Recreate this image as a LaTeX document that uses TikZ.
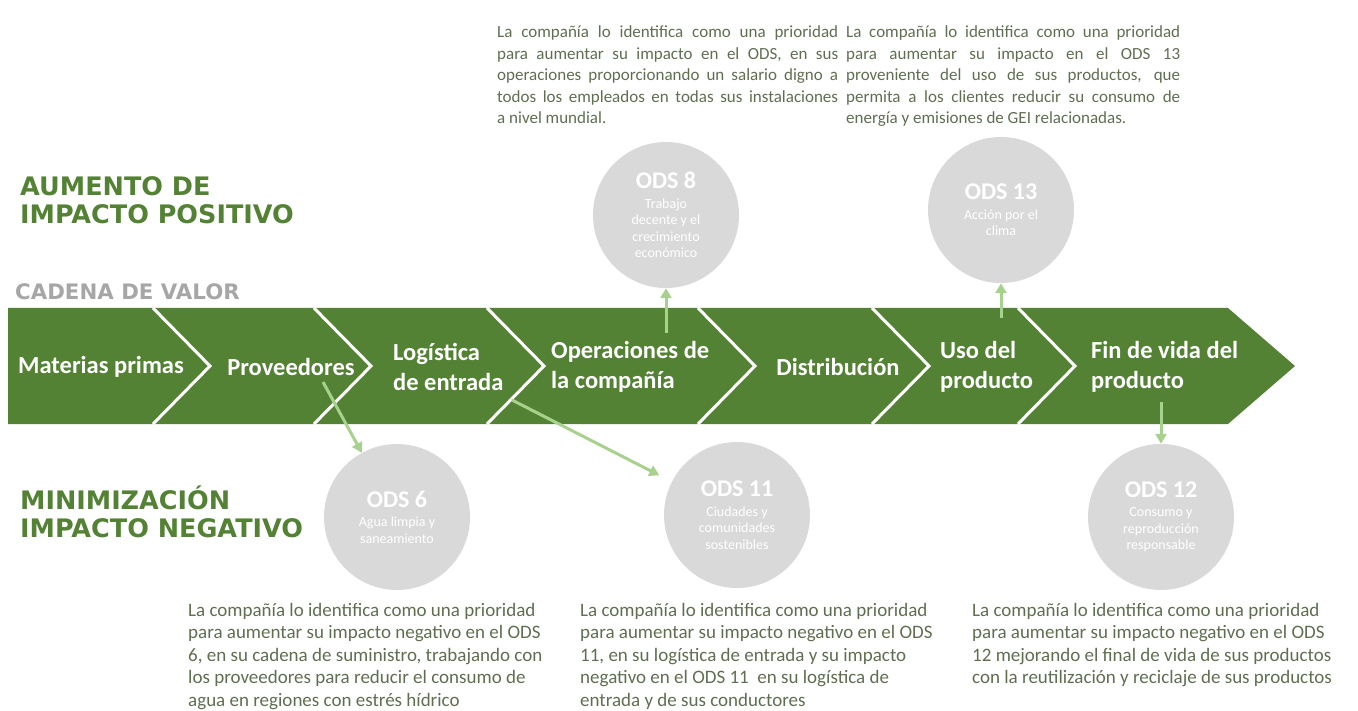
\documentclass[tikz,border=0pt]{standalone}
\usepackage{fontspec}
\setmainfont{Carlito}
\newfontfamily\headfont{DejaVu Sans}
\usetikzlibrary{arrows.meta}
\definecolor{bandgreen}{RGB}{84,130,53}
\definecolor{linkgreen}{RGB}{169,209,142}
\definecolor{odsgray}{RGB}{217,217,217}
\definecolor{notetext}{RGB}{95,110,80}
\definecolor{valuegray}{RGB}{166,166,166}
\begin{document}
\begin{tikzpicture}[x=1pt,y=-1pt,
    stage/.style={text=white,inner sep=0pt,align=left,font=\bfseries\fontsize{24.5}{30}\selectfont},
    ods/.style={circle,fill=odsgray,minimum size=146pt,inner sep=0pt,text=white,align=center,font=\fontsize{14}{16.5}\selectfont},
    note/.style={text=notetext,inner sep=0pt,anchor=north west,font=\fontsize{19}{22.5}\selectfont},
    heading/.style={text=bandgreen,inner sep=0pt,anchor=west,align=left,font=\headfont\bfseries\fontsize{25.5}{28}\selectfont},
    link/.style={linkgreen,line width=3pt,-{Triangle[length=10pt,width=11pt]}}]
    \useasboundingbox (0,0) rectangle (1358,711);
    \newcommand{\odsname}[1]{{\bfseries\fontsize{24}{28}\selectfont #1}\\[3pt]}

    % headings
    \node[heading] (pos) at (20,200) {AUMENTO DE\\IMPACTO POSITIVO};
    \node[heading,text=valuegray,font=\headfont\bfseries\fontsize{21.3}{24}\selectfont] (cadena) at (15,292) {CADENA DE VALOR};
    \node[heading] (neg) at (20,512) {MINIMIZACIÓN\\IMPACTO NEGATIVO};

    % value chain band
    \fill[bandgreen] (8,308) -- (1228,308) -- (1295,366) -- (1228,424) -- (8,424) -- cycle;
    \foreach \t in {153,314,487,698,872,1018}
        \draw[white,line width=3pt] (\t,308) -- (\t+57,366) -- (\t,424);
    \node[stage] (mat) at (101,367) {Materias primas};
    \node[stage] (prov) at (291,367) {Proveedores};
    \node[stage,anchor=west] (log) at (393,367) {Logística\\de entrada};
    \node[stage,anchor=west] (oper) at (551,367) {Operaciones de\\la compañía};
    \node[stage] (dist) at (838,367) {Distribución};
    \node[stage,anchor=west] (uso) at (940,367) {Uso del\\producto};
    \node[stage,anchor=west] (fin) at (1091,367) {Fin de vida del\\producto};

    % ODS circles
    \node[ods] (ods8) at (666,215) {\odsname{ODS 8}Trabajo\\decente y el\\crecimiento\\económico};
    \node[ods] (ods13) at (1001,210) {\odsname{ODS 13}Acción por el\\clima};
    \node[ods] (ods6) at (397,517) {\odsname{ODS 6}Agua limpia y\\saneamiento};
    \node[ods] (ods11) at (737,515) {\odsname{ODS 11}Ciudades y\\comunidades\\sostenibles};
    \node[ods] (ods12) at (1161,517) {\odsname{ODS 12}Consumo y\\reproducción\\responsable};

    % links from the chain
    \coordinate (c8) at (666,333);
    \coordinate (c13) at (1001,318);
    \coordinate (c6) at (323,382);
    \coordinate (c11) at (512,400);
    \coordinate (c12) at (1161,402);
    \draw[link] (c8) -- (ods8);
    \draw[link] (c13) -- (ods13);
    \draw[link] (c6) -- (ods6);
    \draw[link,shorten >=14pt] (c11) -- (ods11);
    \draw[link] (c12) -- (ods12);

    % notes
    \node[note,text width=341pt,align=justify,font=\fontsize{17}{21.5}\selectfont] (n8) at (497,26) {La compañía lo identifica como una prioridad\linebreak para aumentar su impacto en el ODS, en sus\linebreak operaciones proporcionando un salario digno a\linebreak todos los empleados en todas sus instalaciones\linebreak a nivel mundial.};
    \node[note,text width=334pt,align=justify,font=\fontsize{17}{21.5}\selectfont] (n13) at (846,26) {La compañía lo identifica como una prioridad\linebreak para aumentar su impacto en el ODS 13\linebreak proveniente del uso de sus productos, que\linebreak permita a los clientes reducir su consumo de\linebreak energía y emisiones de GEI relacionadas.};
    \node[note,align=left] (n6) at (188,603) {La compañía lo identifica como una prioridad\\para aumentar su impacto negativo en el ODS\\6, en su cadena de suministro, trabajando con\\los proveedores para reducir el consumo de\\agua en regiones con estrés hídrico};
    \node[note,align=left] (n11) at (580,603) {La compañía lo identifica como una prioridad\\para aumentar su impacto negativo en el ODS\\11, en su logística de entrada y su impacto\\negativo en el ODS 11\ \ en su logística de\\entrada y de sus conductores};
    \node[note,align=left] (n12) at (972,603) {La compañía lo identifica como una prioridad\\para aumentar su impacto negativo en el ODS\\12 mejorando el final de vida de sus productos\\con la reutilización y reciclaje de sus productos};
\end{tikzpicture}
\end{document}
